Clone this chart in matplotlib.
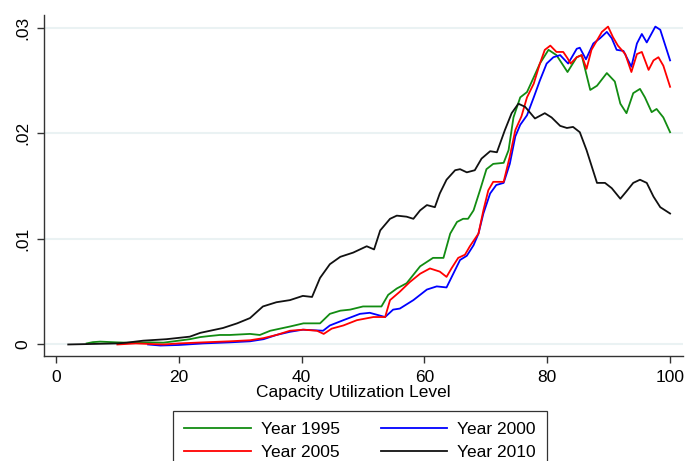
import numpy as np
import matplotlib
matplotlib.use("Agg")
import matplotlib.pyplot as plt

plt.rcParams['font.family'] = ['Liberation Sans', 'DejaVu Sans']

# Year 1995
x_1995 = [5, 6, 7.2, 9.9, 11.5, 15.3, 17.5, 21.8, 23.5, 25, 26.7, 28.3, 31.6, 33.2, 34.9,
          38.1, 40.3, 43, 44.6, 46.3, 47.9, 50, 53, 54.1, 55.5, 57.1, 59.3, 61.4, 63.1,
          64.2, 65.3, 66.3, 67.1, 68, 69.1, 70.1, 71.2, 72.9, 73.7, 74.5, 75.6, 76.7,
          77.8, 78.8, 80.2, 81.5, 82.4, 83.3, 84.8, 85.6, 87, 88.1, 89.7, 91, 91.9,
          92.9, 94, 95.1, 95.9, 97, 97.8, 98.9, 100]
y_1995 = [0.0001, 0.00022, 0.00027, 0.0002, 0.00017, 0.0002, 0.00017, 0.0005, 0.0007,
          0.0008, 0.0009, 0.0009, 0.0010, 0.0009, 0.0013, 0.0017, 0.0020, 0.0020, 0.0029,
          0.0032, 0.0033, 0.0036, 0.0036, 0.0047, 0.0053, 0.0058, 0.0074, 0.0082, 0.0082,
          0.0105, 0.0116, 0.0119, 0.0119, 0.0127, 0.0147, 0.0166, 0.0171, 0.0172, 0.0184,
          0.0215, 0.0234, 0.0239, 0.0253, 0.0266, 0.0279, 0.0274, 0.0266, 0.0258, 0.0272,
          0.0274, 0.0241, 0.0245, 0.0257, 0.0249, 0.0228, 0.0219, 0.0238, 0.0242, 0.0234,
          0.0220, 0.0223, 0.0215, 0.0201]

# Year 2000
x_2000 = [15, 17, 20, 24, 28.3, 31.6, 33.8, 35.9, 38.1, 40.2, 43.5, 44.6, 46.8, 49.5,
          51.1, 53.6, 54.9, 56, 58.2, 60.4, 62, 63.6, 64.7, 65.8, 66.9, 68, 68.8, 69.6,
          70.7, 71.7, 72.9, 73.9, 74.8, 75.6, 76.7, 77.8, 78.8, 79.9, 81, 82.1, 83.4,
          84.8, 85.3, 86.3, 87.5, 88.6, 89.7, 90.5, 91.3, 92.4, 93.7, 94.6, 95.4, 96.2,
          97.6, 98.4, 100]
y_2000 = [0, -0.0001, -0.00005, 0.0001, 0.0002, 0.0003, 0.0005, 0.0009, 0.0012, 0.0014,
          0.0013, 0.0018, 0.0023, 0.0029, 0.0030, 0.0026, 0.0033, 0.0034, 0.0042, 0.0052,
          0.0055, 0.0054, 0.0067, 0.0080, 0.0084, 0.0094, 0.0105, 0.0124, 0.0143, 0.0151,
          0.0153, 0.0171, 0.0197, 0.0208, 0.0217, 0.0234, 0.0250, 0.0266, 0.0272, 0.0274,
          0.0266, 0.0280, 0.0281, 0.0270, 0.0285, 0.0290, 0.0296, 0.0290, 0.0279, 0.0278,
          0.0263, 0.0285, 0.0294, 0.0286, 0.0301, 0.0298, 0.0269]

# Year 2005
x_2005 = [10, 13, 17.5, 20, 24, 28.3, 31.6, 33.8, 35.9, 38.1, 40.3, 42.5, 43.6, 44.9,
          46.8, 49, 51.7, 53.6, 54.4, 56, 57.6, 59.3, 60.9, 62.5, 63.6, 64.4, 65.5, 66.6,
          67.4, 68.8, 69.6, 70.4, 71.2, 72.9, 73.9, 74.8, 75.8, 76.7, 77.8, 78.8, 79.6,
          80.5, 81.5, 82.6, 83.3, 83.8, 84.8, 85.6, 86.4, 87.2, 88.1, 88.9, 89.9, 90.7,
          91.5, 92.7, 93.7, 94.6, 95.4, 96.5, 97.3, 98.1, 98.9, 100]
y_2005 = [0, 0.0001, 0, 0.0001, 0.0002, 0.0003, 0.0004, 0.0006, 0.0009, 0.0013, 0.0014,
          0.0013, 0.0010, 0.0015, 0.0018, 0.0023, 0.0026, 0.0026, 0.0042, 0.0050, 0.0059,
          0.0067, 0.0072, 0.0069, 0.0064, 0.0072, 0.0082, 0.0085, 0.0093, 0.0105, 0.0127,
          0.0146, 0.0154, 0.0154, 0.0178, 0.0203, 0.0216, 0.0234, 0.0247, 0.0266, 0.0279,
          0.0283, 0.0277, 0.0277, 0.0271, 0.0266, 0.0272, 0.0274, 0.0261, 0.0279, 0.0288,
          0.0296, 0.0301, 0.0291, 0.0283, 0.0275, 0.0258, 0.0275, 0.0277, 0.0260, 0.0269,
          0.0272, 0.0264, 0.0244]

# Year 2010
x_2010 = [2, 10, 11.5, 14.2, 18, 21.8, 23.5, 27.2, 29.5, 31.6, 33.7, 35.9, 38.1, 40.2,
          41.7, 43, 44.6, 46.3, 48.4, 50.6, 51.8, 52.8, 54.4, 55.5, 57.1, 58.2, 59.3,
          60.4, 61.7, 62.5, 63.6, 65, 65.8, 66.9, 68.2, 69.3, 70.7, 71.8, 73.1, 74.2,
          75.3, 76.4, 78, 79.6, 80.7, 82.1, 83.2, 84.2, 85.3, 86.4, 88.1, 89.4, 90.5,
          91.9, 92.9, 94, 95.1, 96.2, 97.3, 98.4, 100]
y_2010 = [0, 0.0001, 0.00017, 0.00036, 0.0005, 0.00074, 0.0011, 0.00156, 0.0020, 0.0025,
          0.0036, 0.0040, 0.0042, 0.0046, 0.0045, 0.0063, 0.0076, 0.0083, 0.0087, 0.0093,
          0.0090, 0.0108, 0.0119, 0.0122, 0.0121, 0.0119, 0.0127, 0.0132, 0.0130, 0.0143,
          0.0156, 0.0165, 0.0166, 0.0163, 0.0165, 0.0176, 0.0183, 0.0182, 0.0203, 0.0219,
          0.0228, 0.0225, 0.0214, 0.0219, 0.0215, 0.0207, 0.0205, 0.0206, 0.0201, 0.0184,
          0.0153, 0.0153, 0.0148, 0.0138, 0.0145, 0.0153, 0.0156, 0.0153, 0.0140, 0.0130,
          0.0124]

x_ticks = [0, 20, 40, 60, 80, 100]
y_ticks = [0, 0.01, 0.02, 0.03]
y_ticklabels = ["0", ".01", ".02", ".03"]

fs = 12.5

fig = plt.figure(figsize=(6.86, 4.61), dpi=100)
ax = fig.add_axes([0.0641, 0.2278, 0.9315, 0.7397])

lw = 1.3
l95, = ax.plot(x_1995, y_1995, color="#128c12", lw=lw, label="Year 1995")
l00, = ax.plot(x_2000, y_2000, color="#0000ff", lw=lw, label="Year 2000")
l05, = ax.plot(x_2005, y_2005, color="#ff0000", lw=lw, label="Year 2005")
l10, = ax.plot(x_2010, y_2010, color="#111111", lw=lw, label="Year 2010")

ax.set_xlim(-1.95, 102.1)
ax.set_ylim(-0.00109, 0.0312)
ax.set_xticks(x_ticks)
ax.set_yticks(y_ticks)
ax.set_yticklabels(y_ticklabels, rotation=90, va="center")
for yv in y_ticks:
    ax.axhline(yv, color="#eaf2f3", lw=1.5, zorder=0)

for s in ["top", "right"]:
    ax.spines[s].set_visible(False)
for s in ["left", "bottom"]:
    ax.spines[s].set_color("#333333")
    ax.spines[s].set_linewidth(1.0)
ax.tick_params(axis="both", direction="out", length=5, width=1.0, color="#333333",
               labelsize=fs, pad=5)
ax.set_xlabel("Capacity Utilization Level", fontsize=fs)
ax.xaxis.set_label_coords(0.4836, -0.085)

leg = fig.legend([l95, l05, l00, l10], ["Year 1995", "Year 2005", "Year 2000", "Year 2010"],
                 ncol=2, loc="upper left", bbox_to_anchor=(172.7 / 686, 1 - 411 / 461),
                 bbox_transform=fig.transFigure, borderaxespad=0, fontsize=fs,
                 frameon=True, fancybox=False, edgecolor="black", handlelength=3.85,
                 handletextpad=0.57, columnspacing=2.35, labelspacing=0.45, borderpad=0.65)
leg.get_frame().set_linewidth(0.9)

fig.savefig("out.png", dpi=100)
